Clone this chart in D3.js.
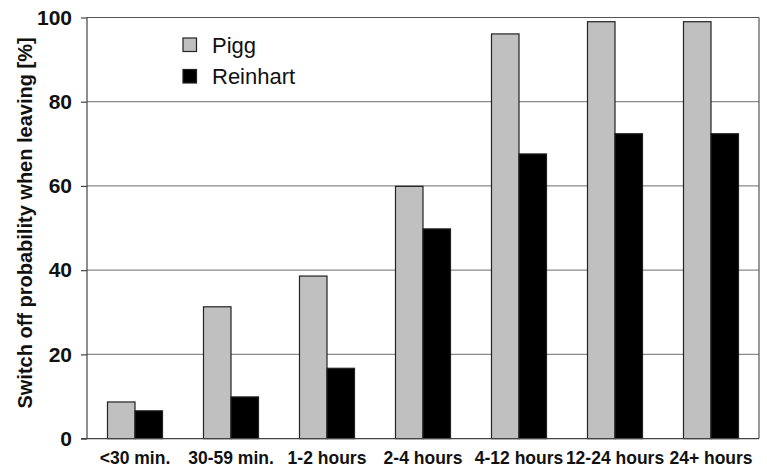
<!DOCTYPE html>
<html>
<head>
<meta charset="utf-8">
<script src="https://cdn.jsdelivr.net/npm/d3@7"></script>
<style>
  html, body { margin: 0; padding: 0; background: #fff; }
  svg { display: block; font-family: "Liberation Sans", Arial, Helvetica, sans-serif; }
</style>
</head>
<body>
<svg id="chart" width="767" height="468"></svg>
<script>
const categories = ["<30 min.", "30-59 min.", "1-2 hours", "2-4 hours", "4-12 hours", "12-24 hours", "24+ hours"];
const seriesNames = ["Pigg", "Reinhart"];
const piggValues = [8.7, 31.3, 38.6, 59.9, 96.1, 99.0, 99.0];
const reinhartValues = [6.6, 9.9, 16.7, 49.8, 67.6, 72.4, 72.4];
const yTicks = [0, 20, 40, 60, 80, 100];
const colors = ["#c0c0c0", "#000000"];

const svg = d3.select("#chart");
const m = { left: 87, right: 759, top: 17.5, bottom: 438.6 };

const x0 = d3.scaleBand().domain(categories).range([m.left, m.right])
  .paddingInner(0.427).paddingOuter(0.2135);
const x1 = d3.scaleBand().domain(seriesNames).range([0, x0.bandwidth()]).padding(0);
const y = d3.scaleLinear().domain([0, 100]).range([m.bottom, m.top]);

// gridlines
svg.append("g").selectAll("line").data(yTicks.filter(d => d > 0)).join("line")
  .attr("x1", m.left).attr("x2", m.right)
  .attr("y1", d => y(d)).attr("y2", d => y(d))
  .attr("stroke", d => d === 100 ? "#555" : "#8a8a8a").attr("stroke-width", 1.2);

// right frame
svg.append("line").attr("x1", m.right).attr("x2", m.right)
  .attr("y1", m.top).attr("y2", m.bottom).attr("stroke", "#555").attr("stroke-width", 1.2);

// bars
const data = categories.map((c, i) => ({ c, vals: [piggValues[i], reinhartValues[i]] }));
const groups = svg.append("g").selectAll("g").data(data).join("g")
  .attr("transform", d => `translate(${x0(d.c)},0)`);
groups.selectAll("rect").data(d => d.vals.map((v, j) => ({ s: seriesNames[j], v, j })))
  .join("rect")
  .attr("x", d => x1(d.s))
  .attr("width", x1.bandwidth())
  .attr("y", d => y(d.v))
  .attr("height", d => y(0) - y(d.v))
  .attr("fill", d => colors[d.j])
  .attr("stroke", "#222").attr("stroke-width", 1.2);

// y axis
const yAxis = d3.axisLeft(y).tickValues(yTicks).tickSize(6).tickPadding(9).tickFormat(d3.format("d"));
const ya = svg.append("g").attr("transform", `translate(${m.left},0)`).call(yAxis);
ya.select(".domain").attr("stroke", "#444").attr("stroke-width", 1.2).attr("d", `M-0,${m.top}V${m.bottom}`);
ya.selectAll(".tick line").attr("stroke", "#444").attr("stroke-width", 1.2);
ya.selectAll(".tick text").attr("font-size", 21).attr("font-weight", "bold")
  .attr("fill", "#111").attr("font-family", "Liberation Sans, Arial, sans-serif");

// x axis baseline
svg.append("line").attr("x1", m.left - 6).attr("x2", m.right)
  .attr("y1", y(0)).attr("y2", y(0)).attr("stroke", "#444").attr("stroke-width", 1.2);

// x labels
const xAxis = d3.axisBottom(x0).tickSize(0).tickPadding(0);
const xa = svg.append("g").attr("transform", `translate(0,${y(0)})`).call(xAxis);
xa.select(".domain").remove();
xa.selectAll(".tick text").attr("dy", null).attr("y", 25.5)
  .attr("font-size", 17.5).attr("font-weight", "bold").attr("fill", "#111")
  .attr("font-family", "Liberation Sans, Arial, sans-serif");

// y title
svg.append("text")
  .attr("transform", `translate(32,223) rotate(-90)`)
  .attr("text-anchor", "middle")
  .attr("font-size", 20).attr("font-weight", "bold").attr("fill", "#111")
  .text("Switch off probability when leaving [%]");

// legend
const legend = svg.append("g");
seriesNames.forEach((s, i) => {
  const g = legend.append("g").attr("transform", `translate(183,${38 + i * 31.5})`);
  g.append("rect").attr("width", 13.5).attr("height", 13.5)
    .attr("fill", colors[i]).attr("stroke", "#222").attr("stroke-width", 1.2);
  g.append("text").attr("x", 29).attr("y", 14.5)
    .attr("font-size", 22).attr("fill", "#111").text(s);
});
</script>
</body>
</html>
